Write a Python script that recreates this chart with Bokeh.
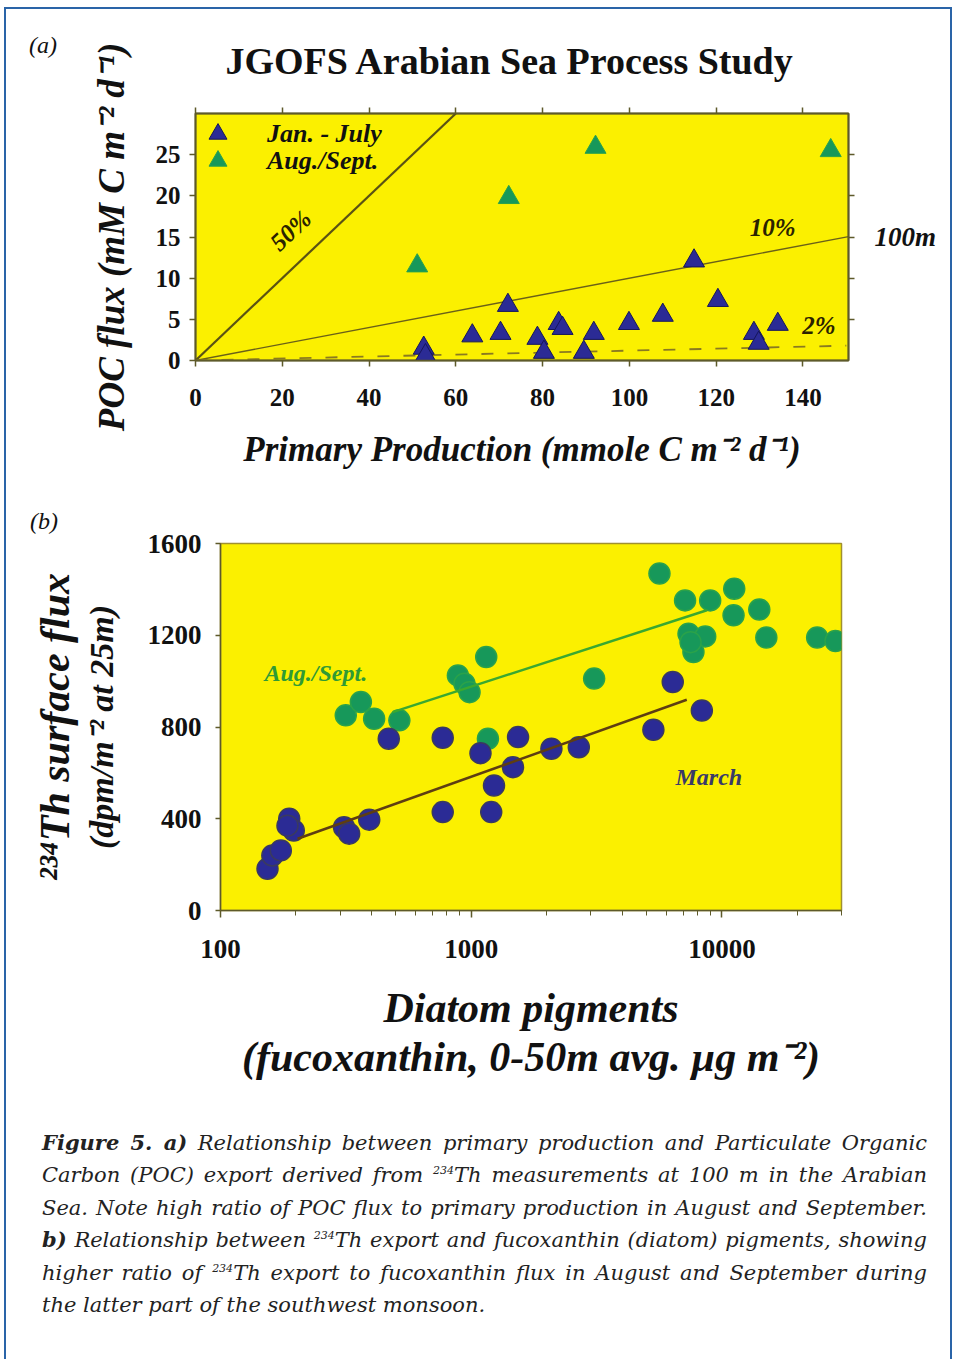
import math
from bokeh.plotting import figure
from bokeh.models import (Range1d, LinearAxis, LogAxis, LogScale, FixedTicker, Label, Legend,
                          LegendItem, NumeralTickFormatter, CustomJSTickFormatter, Div)
from bokeh.embed import file_html
from bokeh.resources import INLINE

# ---------------- data: panel (a) ----------------
jan_pp = [52.6, 53.0, 63.8, 70.3, 72.0, 78.8, 80.3, 83.7, 84.6, 89.5, 91.8, 99.9,
          107.7, 114.9, 120.4, 128.7, 129.8, 134.2]
jan_poc = [1.5, 0.6, 3.0, 3.3, 6.7, 2.7, 1.0, 4.5, 3.9, 1.0, 3.3, 4.5,
           5.5, 12.1, 7.3, 3.3, 2.1, 4.4]
aug_pp = [51.1, 72.2, 92.2, 146.4]
aug_poc = [11.5, 19.8, 25.9, 25.5]

ratio50_x = [0, 60]
ratio50_y = [0, 30]
ratio10_x = [0, 150.5]
ratio10_y = [0, 15.05]
ratio2_x = [0, 150]
ratio2_y = [0, 1.8]

a_xticks = [0, 20, 40, 60, 80, 100, 120, 140]
a_yticks = [0, 5, 10, 15, 20, 25]

# ---------------- data: panel (b) ----------------
march_fuco = [154, 161, 174, 188, 196, 185, 311, 326, 392, 469, 770, 770, 1089, 1202,
              1233, 1538, 1468, 2089, 2687, 5330, 6368, 8318]
march_th = [182, 240, 262, 400, 349, 370, 363, 335, 396, 749, 753, 429, 686, 429,
            545, 756, 625, 705, 712, 788, 996, 872]
augb_fuco = [316, 363, 410, 517, 885, 940, 985, 1148, 1166, 3093, 5636, 7130, 8980,
             11200, 11130, 14100, 15040, 7360, 8580, 7700, 7500, 23990, 28400]
augb_th = [851, 909, 836, 829, 1025, 989, 952, 1105, 749, 1011, 1469, 1352, 1352,
           1403, 1287, 1312, 1190, 1207, 1195, 1127, 1170, 1190, 1175]

fit_aug_x = [486, 8710]
fit_aug_y = [865, 1309]
fit_march_x = [203, 7244]
fit_march_y = [313, 919]

b_xticks = [100, 1000, 10000]
b_minor = [m * 10 ** e for e in (2, 3, 4) for m in range(2, 10) if m * 10 ** e <= 30000]
b_yticks = [0, 400, 800, 1200, 1600]

# ---------------- styles ----------------
SERIF = "Liberation Serif"
YELLOW = "#fbf000"
NAVY = "#2b2b95"
NAVY_EDGE = "#16165a"
GREEN = "#17985a"
GREEN_EDGE = "#2aa24a"
AXC = "#5e5a2a"
INK = "#111111"

blank = CustomJSTickFormatter(code="return ''")


def style_axis(ax, size, out=6):
    ax.axis_line_color = AXC
    ax.axis_line_width = 1.5
    ax.major_tick_line_color = AXC
    ax.major_tick_line_width = 1.5
    ax.major_tick_in = 0
    ax.major_tick_out = out
    ax.minor_tick_line_color = None
    ax.major_label_text_font = SERIF
    ax.major_label_text_font_style = "bold"
    ax.major_label_text_font_size = size
    ax.major_label_text_color = INK
    ax.axis_label_text_font = SERIF
    ax.axis_label_text_font_style = "bold italic"
    ax.axis_label_text_color = INK


def label_only_axis(cls, text, size, standoff, **kw):
    ax = cls(ticker=FixedTicker(ticks=[]), axis_label=text, **kw)
    ax.axis_line_color = None
    ax.major_tick_line_color = None
    ax.minor_tick_line_color = None
    ax.major_tick_in = 0
    ax.major_tick_out = 0
    ax.major_label_standoff = 0
    ax.major_label_text_font_size = "1px"
    ax.axis_label_standoff = standoff
    ax.axis_label_text_font = SERIF
    ax.axis_label_text_font_style = "bold italic"
    ax.axis_label_text_font_size = size
    ax.axis_label_text_color = INK
    return ax


def data_label(fig, x, y, text, size, color=INK, angle=0.0):
    fig.add_layout(Label(x=x, y=y, text=text, text_font=SERIF,
                         text_font_style="bold italic", text_font_size=size,
                         text_color=color, text_align="center", text_baseline="middle",
                         angle=angle))


# ================= panel (a) =================
pa = figure(width=948, height=488, output_backend="svg", toolbar_location=None,
            x_range=Range1d(0, 150.5), y_range=Range1d(0, 30),
            min_border_left=195, min_border_right=100, min_border_top=113,
            min_border_bottom=128, x_axis_location=None, y_axis_location=None)
pa.background_fill_color = YELLOW
pa.border_fill_color = "white"
pa.outline_line_color = AXC
pa.outline_line_width = 2
pa.xgrid.visible = False
pa.ygrid.visible = False
pa.title.text = "JGOFS Arabian Sea Process Study"
pa.title.text_font = SERIF
pa.title.text_font_style = "bold"
pa.title.text_font_size = "38px"
pa.title.text_color = INK
pa.title.align = "left"
pa.title.offset = 30
pa.title.standoff = 51

ax_b = LinearAxis(ticker=FixedTicker(ticks=a_xticks),
                  axis_label="Primary Production (mmole C m\u207b\u00b2 d\u207b\u00b9)")
style_axis(ax_b, "25px")
ax_b.major_label_standoff = 22
ax_b.axis_label_text_font_size = "35px"
ax_b.axis_label_standoff = 21
pa.add_layout(ax_b, "below")

ax_l = LinearAxis(ticker=FixedTicker(ticks=a_yticks),
                  axis_label="POC flux (mM C m\u207b\u00b2 d\u207b\u00b9)")
style_axis(ax_l, "25px")
ax_l.major_label_standoff = 9
ax_l.axis_label_text_font_size = "37px"
ax_l.axis_label_standoff = 21
pa.add_layout(ax_l, "left")

ax_t = LinearAxis(ticker=FixedTicker(ticks=a_xticks), formatter=blank)
style_axis(ax_t, "1px")
ax_t.major_label_standoff = 0
pa.add_layout(ax_t, "above")

ax_r = LinearAxis(ticker=FixedTicker(ticks=a_yticks[1:]), formatter=blank, axis_label="100m")
style_axis(ax_r, "1px")
ax_r.major_label_standoff = 0
ax_r.axis_label_orientation = "horizontal"
ax_r.axis_label_text_font_size = "27px"
ax_r.axis_label_standoff = 20
pa.add_layout(ax_r, "right")

pa.line(ratio50_x, ratio50_y, line_color="#5a5214", line_width=2.2)
pa.line(ratio10_x, ratio10_y, line_color="#6a6018", line_width=1.4)
pa.line(ratio2_x, ratio2_y, line_color="#8a7a20", line_width=1.8, line_dash="12 14")

r_aug = pa.scatter(aug_pp, aug_poc, marker="triangle", size=21, fill_color=GREEN,
                   line_color=GREEN_EDGE, line_width=1)
r_jan = pa.scatter(jan_pp, jan_poc, marker="triangle", size=21, fill_color=NAVY,
                   line_color=NAVY_EDGE, line_width=1)

for lab, rend, vy in (("Jan. - July", r_jan, 204), ("Aug./Sept.", r_aug, 177)):
    pa.add_layout(Legend(items=[LegendItem(label=lab, renderers=[rend])],
                         location=(0, vy), margin=0, padding=0, spacing=0,
                         glyph_width=45, glyph_height=45, label_height=45,
                         label_standoff=27, background_fill_alpha=0, border_line_alpha=0,
                         label_text_font=SERIF, label_text_font_style="bold italic",
                         label_text_font_size="26px", label_text_color=INK))

data_label(pa, 21.9, 15.8, "50%", "25px", color="#2a2200", angle=0.76)
data_label(pa, 133.0, 16.2, "10%", "25px", color="#2a2200")
data_label(pa, 143.7, 4.3, "2%", "25px", color="#2a2200")

# ================= panel (b) =================
pb = figure(width=948, height=604, output_backend="svg", toolbar_location=None,
            x_axis_type="log", x_range=Range1d(100, 30000), y_range=Range1d(0, 1600),
            min_border_left=220, min_border_right=107, min_border_top=55,
            min_border_bottom=182, x_axis_location=None, y_axis_location=None)
pb.x_scale = LogScale()
pb.background_fill_color = YELLOW
pb.border_fill_color = "white"
pb.outline_line_color = "#a09030"
pb.outline_line_width = 1.5
pb.xgrid.visible = False
pb.ygrid.visible = False

bx = LogAxis(ticker=FixedTicker(ticks=b_xticks, minor_ticks=b_minor),
             formatter=NumeralTickFormatter(format="0"), axis_label="Diatom pigments")
style_axis(bx, "27px", out=7)
bx.minor_tick_line_color = AXC
bx.minor_tick_out = 5
bx.minor_tick_in = 0
bx.major_label_standoff = 22
bx.axis_label_text_font_size = "42px"
bx.axis_label_standoff = 24
pb.add_layout(bx, "below")
pb.add_layout(label_only_axis(LogAxis, "(fucoxanthin, 0-50m avg. \u00b5g m\u207b\u00b2)",
                              "42px", 0), "below")

by = LinearAxis(ticker=FixedTicker(ticks=b_yticks), axis_label="(dpm/m\u207b\u00b2 at 25m)")
style_axis(by, "27px", out=5)
by.major_label_standoff = 14
by.axis_label_text_font_size = "34px"
by.axis_label_standoff = 25
pb.add_layout(by, "left")
pb.add_layout(label_only_axis(LinearAxis, "\u00b2\u00b3\u2074Th surface flux", "42px", 2),
              "left")

pb.scatter(augb_fuco, augb_th, marker="circle", size=21, fill_color=GREEN,
           line_color=GREEN_EDGE, line_width=1.5)
pb.scatter(march_fuco, march_th, marker="circle", size=21, fill_color=NAVY,
           line_color="#3a3a60", line_width=1.5)
pb.line(fit_aug_x, fit_aug_y, line_color="#3aa830", line_width=2.5)
pb.line(fit_march_x, fit_march_y, line_color="#5e3e12", line_width=2.5)

data_label(pb, 240, 1034, "Aug./Sept.", "24px", color="#2f9a35")
data_label(pb, 8870, 580, "March", "24px", color="#3a3a68")

# ================= caption =================
cap_lines = [
    "<b>Figure 5. a)</b> Relationship between primary production and Particulate Organic",
    "Carbon (POC) export derived from <sup>234</sup>Th measurements at 100 m in the Arabian",
    "Sea. Note high ratio of POC flux to primary production in August and September.",
    "<b>b)</b> Relationship between <sup>234</sup>Th export and fucoxanthin (diatom) pigments, showing",
    "higher ratio of <sup>234</sup>Th export to fucoxanthin flux in August and September during",
    "the latter part of the southwest monsoon.",
]
line_html = []
for i, ln in enumerate(cap_lines):
    last = "left" if i == len(cap_lines) - 1 else "justify"
    line_html.append(
        f'<div style="text-align:justify;text-align-last:{last};white-space:nowrap;">{ln}</div>')
cap_html = (
    '<div style="box-sizing:border-box;width:948px;padding:35px 21px 0 42px;'
    'font-family:\'DejaVu Serif\';font-style:italic;font-size:21px;line-height:32.4px;'
    'color:#222222;">'
    + "".join(line_html).replace("<sup>", '<sup style="font-size:11px;line-height:0;">')
    + "</div>"
)
cap = Div(text=cap_html, width=948, height=262, margin=0)

# panel letters and page frame (absolutely positioned, outside the flow)
lab_style = ('font-family:\'Liberation Serif\';font-style:italic;font-size:24px;'
             'line-height:28px;color:#111111;')
div_a = Div(text=f'<div style="{lab_style}">(a)</div>', width=40, height=28, margin=0,
            styles={"position": "absolute", "left": "29px", "top": "31px"})
div_b = Div(text=f'<div style="{lab_style}">(b)</div>', width=40, height=28, margin=0,
            styles={"position": "absolute", "left": "30px", "top": "507px"})
frame = Div(text="", width=948, height=1400, margin=0,
            styles={"position": "fixed", "left": "4px", "top": "7px",
                    "box-sizing": "border-box", "border-top": "2px solid #2a64a8",
                    "border-left": "2px solid #2a64a8", "border-right": "2px solid #2a64a8",
                    "pointer-events": "none"})

open("out.html", "w").write(file_html([pa, pb, cap, div_a, div_b, frame], INLINE))
